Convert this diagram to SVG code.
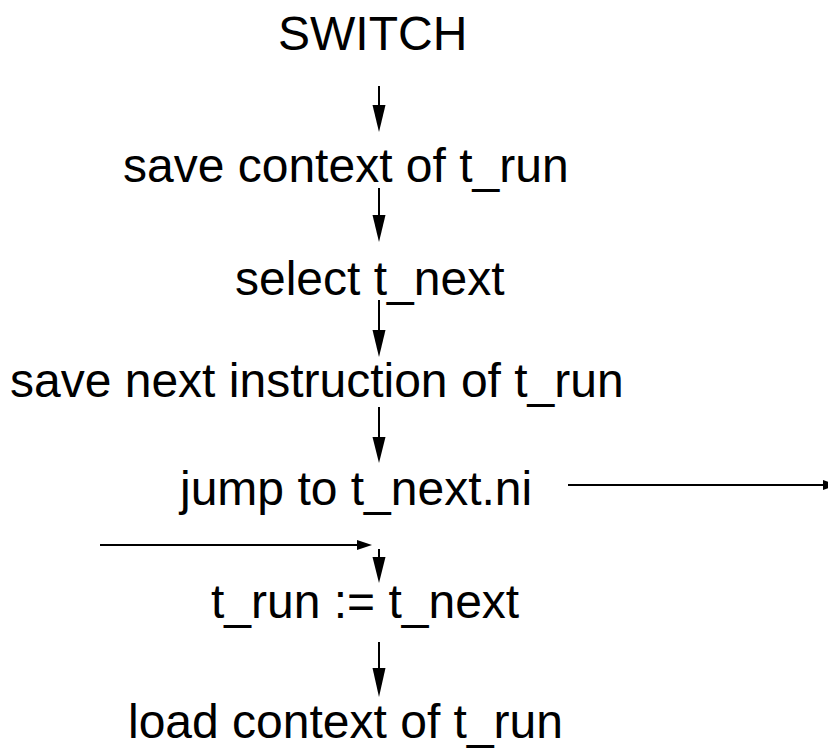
<svg xmlns="http://www.w3.org/2000/svg" width="828" height="749" viewBox="0 0 828 749">
<style>
text{font-family:"Liberation Sans",Arial,sans-serif;font-size:48px;fill:#000}
.c line{stroke:#000;stroke-width:2}
.h{fill:#000}
</style>
<rect width="828" height="749" fill="#fff"/>
<g id="n1"><text x="278" y="50">SWITCH</text></g>
<g id="n2"><text x="123" y="182">save context of t_run</text></g>
<g id="n3"><text x="235" y="295">select t_next</text></g>
<g id="n4"><text x="10" y="397">save next instruction of t_run</text></g>
<g id="n5"><text x="180" y="505">jump to t_next.ni</text></g>
<g id="n6"><text x="211" y="618">t_run := t_next</text></g>
<g id="n7"><text x="128" y="738">load context of t_run</text></g>
<g id="connectors" class="c">
<line x1="379" y1="86" x2="379" y2="108"/><polygon class="h" points="372.5,105 385.5,105 379,132"/>
<line x1="379" y1="188" x2="379" y2="218"/><polygon class="h" points="372.5,215 385.5,215 379,242"/>
<line x1="379" y1="300" x2="379" y2="333"/><polygon class="h" points="372.5,330 385.5,330 379,357"/>
<line x1="379" y1="407" x2="379" y2="440"/><polygon class="h" points="372.5,437 385.5,437 379,463"/>
<line x1="379" y1="549" x2="379" y2="560"/><polygon class="h" points="372.5,557 385.5,557 379,583"/>
<line x1="379" y1="642" x2="379" y2="671"/><polygon class="h" points="372.5,668 385.5,668 379,697"/>
<line x1="100" y1="545" x2="360" y2="545"/><polygon class="h" points="357,540 357,550 372,545"/>
<line x1="568" y1="485" x2="826" y2="485"/><polygon class="h" points="823,480 823,490 838,485"/>
</g>
</svg>
